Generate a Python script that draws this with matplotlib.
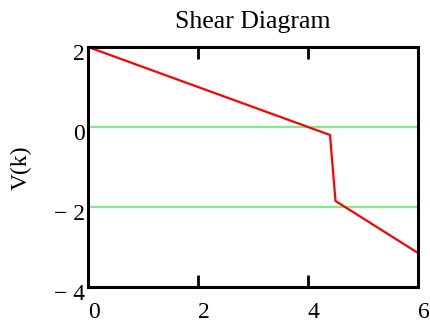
import matplotlib
matplotlib.use("Agg")
import matplotlib.pyplot as plt

# Shear force along the beam (kips) at the breakpoints of the diagram
x_pos = [0.0, 4.4, 4.5, 6.0]
shear = [2.0, -0.2, -1.85, -3.15]

# Reference levels drawn across the plot
ref_levels = [0.0, -2.0]

x_ticks = [0, 2, 4, 6]
y_ticks = [-4, -2, 0, 2]

plt.rcParams["font.family"] = ["Liberation Serif", "DejaVu Serif"]

W, H = 430, 320
fig = plt.figure(figsize=(W / 100, H / 100), dpi=100)
ax = fig.add_axes([88 / W, 1 - 287 / H, 330 / W, 240 / H])

for lvl in ref_levels:
    ax.axhline(lvl, color="#7cf07c", lw=1.6, zorder=1)

ax.plot(x_pos, shear, color="#ff0000", lw=1.6, zorder=2)

ax.set_xlim(0, 6)
ax.set_ylim(-4, 2)
ax.set_xticks(x_ticks)
ax.set_yticks(y_ticks)

for s in ax.spines.values():
    s.set_linewidth(2.2)
    s.set_color("black")

ax.tick_params(axis="x", direction="in", top=True, bottom=True,
               length=8.6, width=2.0, labelbottom=False)
ax.tick_params(axis="y", length=0, labelleft=False)


def fmt(v):
    v = int(round(v))
    return f"\u2212 {abs(v)}" if v < 0 else f"{v}"


# tick labels: x labels start at their tick, y labels sit just below their level
for v in x_ticks:
    ax.annotate(fmt(v), xy=(v, 0), xycoords=("data", "axes fraction"),
                xytext=(0, -25), textcoords="offset pixels",
                ha="left", va="center", fontsize=17, annotation_clip=False)
for v in y_ticks:
    ax.annotate(fmt(v), xy=(0, v), xycoords=("axes fraction", "data"),
                xytext=(-3, -8), textcoords="offset pixels",
                ha="right", va="center", fontsize=17, annotation_clip=False)

fig.text(253 / W, 1 - 28 / H, "Shear Diagram", fontsize=18.5,
         ha="center", va="baseline")
fig.text(21 / W, 1 - 168 / H, "V(k)", rotation=90, fontsize=17,
         ha="center", va="center")

fig.savefig("out.png", dpi=100)
